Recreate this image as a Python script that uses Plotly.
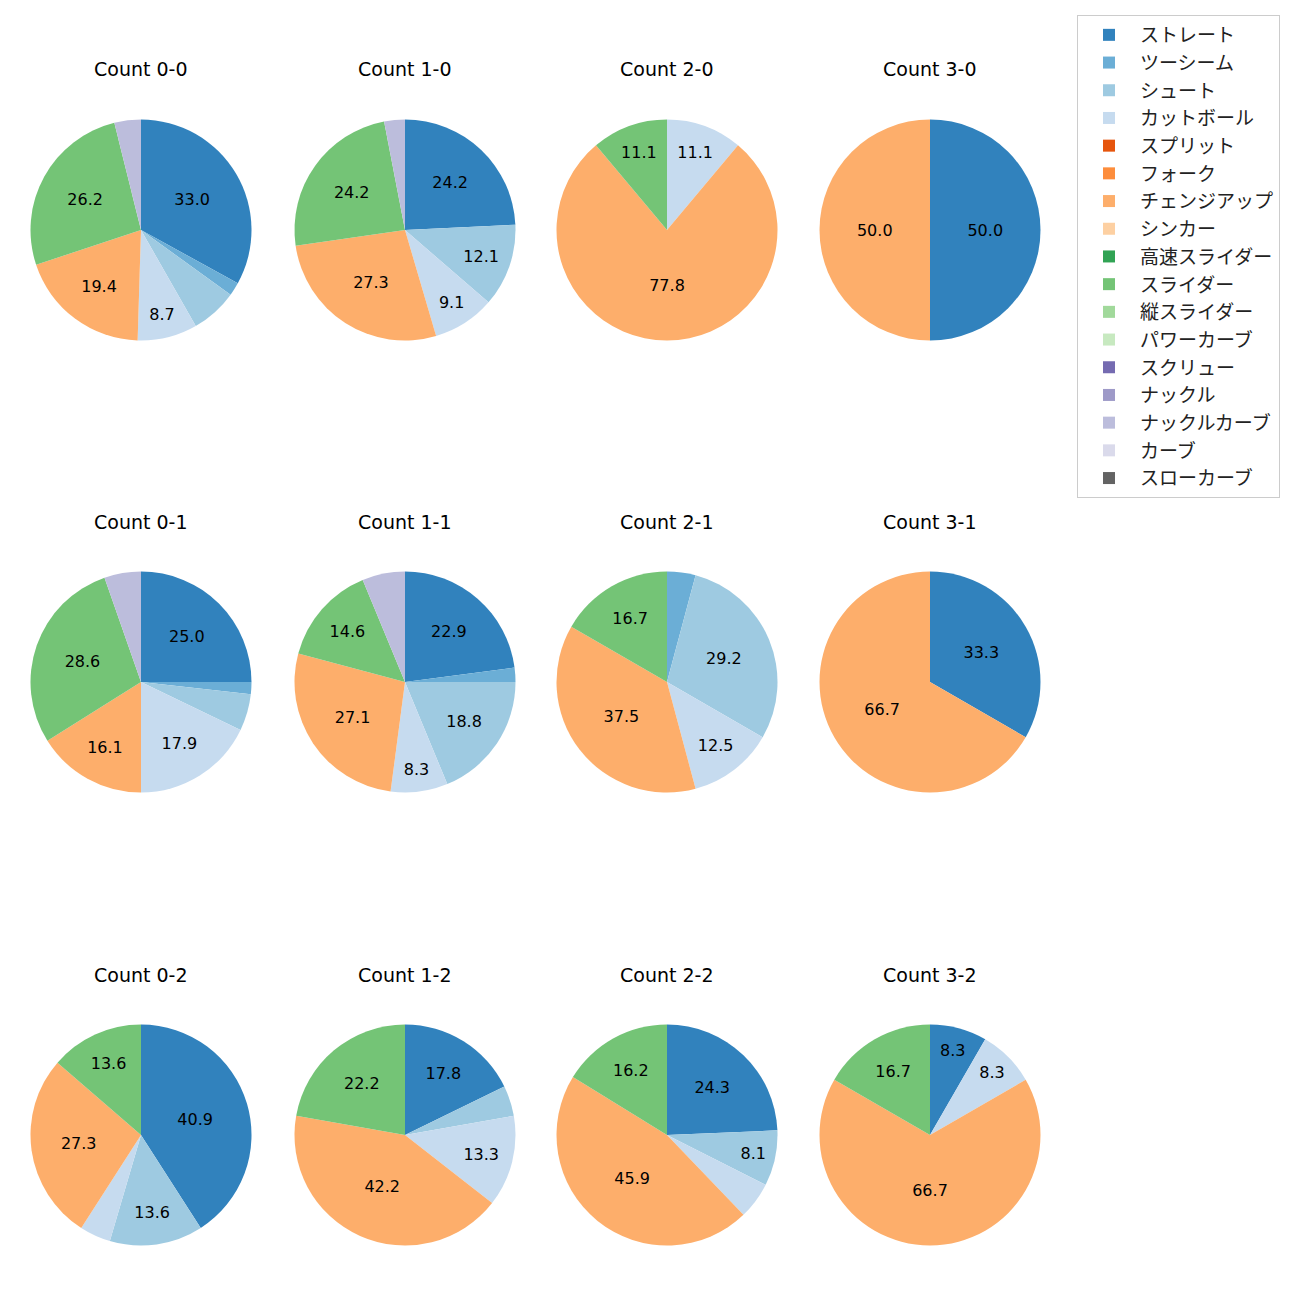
import plotly.graph_objects as go

categories = ["ストレート", "ツーシーム", "シュート", "カットボール", "スプリット", "フォーク",
              "チェンジアップ", "シンカー", "高速スライダー", "スライダー", "縦スライダー",
              "パワーカーブ", "スクリュー", "ナックル", "ナックルカーブ", "カーブ", "スローカーブ"]
colors = ["#3182bd", "#6baed6", "#9ecae1", "#c6dbef", "#e6550d", "#fd8d3c", "#fdae6b", "#fdd0a2",
          "#31a354", "#74c476", "#a1d99b", "#c7e9c0", "#756bb1", "#9e9ac8", "#bcbddc", "#dadaeb",
          "#636363"]

titles = ["Count 0-0", "Count 1-0", "Count 2-0", "Count 3-0",
          "Count 0-1", "Count 1-1", "Count 2-1", "Count 3-1",
          "Count 0-2", "Count 1-2", "Count 2-2", "Count 3-2"]

# pitch counts per category
count_0_0 = {"ストレート": 34, "ツーシーム": 2, "シュート": 7, "カットボール": 9, "チェンジアップ": 20, "スライダー": 27, "ナックルカーブ": 4}
count_1_0 = {"ストレート": 8, "シュート": 4, "カットボール": 3, "チェンジアップ": 9, "スライダー": 8, "ナックルカーブ": 1}
count_2_0 = {"カットボール": 1, "チェンジアップ": 7, "スライダー": 1}
count_3_0 = {"ストレート": 1, "チェンジアップ": 1}
count_0_1 = {"ストレート": 14, "ツーシーム": 1, "シュート": 3, "カットボール": 10, "チェンジアップ": 9, "スライダー": 16, "ナックルカーブ": 3}
count_1_1 = {"ストレート": 11, "ツーシーム": 1, "シュート": 9, "カットボール": 4, "チェンジアップ": 13, "スライダー": 7, "ナックルカーブ": 3}
count_2_1 = {"ツーシーム": 1, "シュート": 7, "カットボール": 3, "チェンジアップ": 9, "スライダー": 4}
count_3_1 = {"ストレート": 1, "チェンジアップ": 2}
count_0_2 = {"ストレート": 9, "シュート": 3, "カットボール": 1, "チェンジアップ": 6, "スライダー": 3}
count_1_2 = {"ストレート": 8, "シュート": 2, "カットボール": 6, "チェンジアップ": 19, "スライダー": 10}
count_2_2 = {"ストレート": 9, "シュート": 3, "カットボール": 2, "チェンジアップ": 17, "スライダー": 6}
count_3_2 = {"ストレート": 1, "カットボール": 1, "チェンジアップ": 8, "スライダー": 2}

data = [count_0_0, count_1_0, count_2_0, count_3_0,
        count_0_1, count_1_1, count_2_1, count_3_1,
        count_0_2, count_1_2, count_2_2, count_3_2]

W = H = 1300
OFF = 8  # page body margin
col_cx = [141, 405, 667, 930]
row_cy = [230, 682, 1135]
R = 110.5
FONT = "DejaVu Sans, Noto Sans CJK JP"


def fx(px):
    return (px - OFF) / W


def fy(py):
    return 1 - (py - OFF) / H


fig = go.Figure()
annotations = []
for i, (d, t) in enumerate(zip(data, titles)):
    r, c = divmod(i, 4)
    cx, cy = col_cx[c], row_cy[r]
    vals = [d.get(k, 0) for k in categories]
    tot = sum(vals)
    txt = [f"{v / tot * 100:.1f}" if v / tot * 100 >= 7 else "" for v in vals]
    fig.add_trace(go.Pie(
        labels=categories, values=vals, text=txt,
        textinfo="text", textposition="inside", insidetextorientation="horizontal",
        textfont=dict(size=16, color="black", family=FONT),
        marker=dict(colors=colors, line=dict(width=0)),
        sort=False, direction="clockwise", rotation=0,
        domain=dict(x=[fx(cx - R), fx(cx + R)], y=[fy(cy + R), fy(cy - R)]),
        showlegend=(i == 0), hoverinfo="label+percent",
    ))
    annotations.append(dict(text=t, x=fx(cx), y=fy(cy - R - 50), xref="paper", yref="paper",
                            showarrow=False, xanchor="center", yanchor="middle",
                            font=dict(size=19, family=FONT, color="black")))

fig.update_layout(
    width=W, height=H, margin=dict(l=0, r=0, t=0, b=0),
    paper_bgcolor="white", plot_bgcolor="white",
    annotations=annotations,
    legend=dict(x=fx(1077), y=fy(15), xanchor="left", yanchor="top",
                bordercolor="#cccccc", borderwidth=1, bgcolor="white",
                font=dict(size=19, family=FONT, color="#222"), tracegroupgap=0,
                itemwidth=52),
    font=dict(family=FONT),
)

fig.write_html("out.html")
